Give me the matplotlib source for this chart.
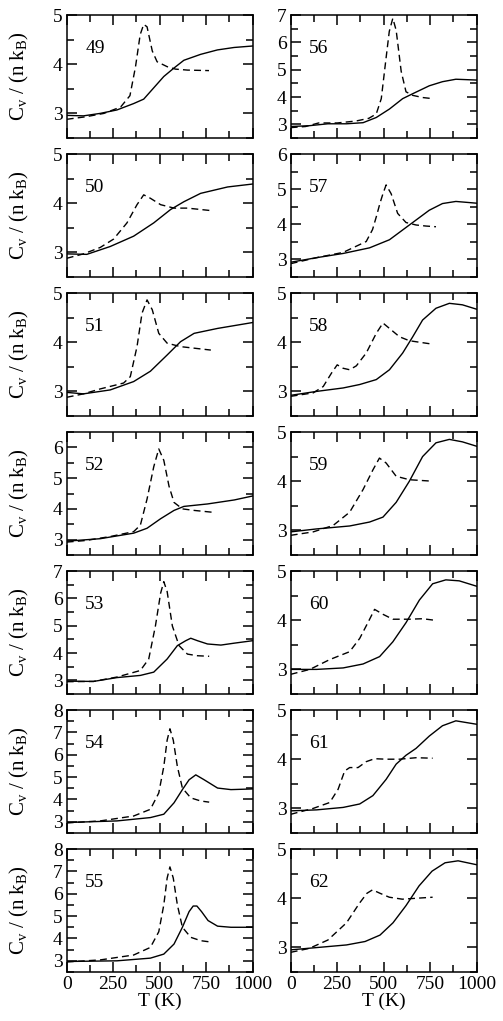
import matplotlib
matplotlib.use("Agg")
import matplotlib.pyplot as plt
from matplotlib.ticker import MultipleLocator

plt.rcParams["font.family"] = ["Liberation Serif", "DejaVu Serif"]
plt.rcParams["mathtext.fontset"] = "custom"
plt.rcParams["mathtext.rm"] = "Liberation Serif"

# panel numbers, left column then right column
left_ids = [49, 50, 51, 52, 53, 54, 55]
right_ids = [56, 57, 58, 59, 60, 61, 62]
ytop = {49: 5, 50: 5, 51: 5, 52: 6.5, 53: 7, 54: 8, 55: 8,
        56: 7, 57: 6, 58: 5, 59: 5, 60: 5, 61: 5, 62: 5}

# dashed (d) and solid (s) curves, T in K and Cv/(n kB)
T_49_d = [0, 100, 200, 290, 340, 370, 395, 414, 432, 460, 486, 540, 585, 650, 765]
C_49_d = [2.88, 2.93, 3.0, 3.13, 3.36, 3.95, 4.6, 4.81, 4.76, 4.27, 4.05, 3.95, 3.9, 3.88, 3.87]
T_49_s = [0, 90, 180, 270, 360, 414, 468, 522, 576, 630, 720, 810, 900, 1000]
C_49_s = [2.96, 2.95, 3.0, 3.07, 3.2, 3.29, 3.52, 3.75, 3.92, 4.08, 4.2, 4.29, 4.34, 4.37]

T_50_d = [0, 90, 180, 252, 324, 378, 414, 450, 505, 577, 649, 775]
C_50_d = [2.88, 2.97, 3.1, 3.27, 3.6, 3.97, 4.17, 4.1, 3.97, 3.9, 3.9, 3.85]
T_50_s = [0, 108, 234, 360, 468, 558, 630, 720, 865, 1000]
C_50_s = [2.97, 2.96, 3.12, 3.33, 3.6, 3.87, 4.03, 4.2, 4.33, 4.39]

T_51_d = [0, 90, 180, 306, 342, 378, 405, 432, 460, 495, 540, 612, 775]
C_51_d = [2.88, 2.95, 3.05, 3.17, 3.3, 3.91, 4.59, 4.86, 4.66, 4.18, 3.98, 3.91, 3.84]
T_51_s = [0, 90, 234, 360, 450, 540, 612, 685, 811, 1000]
C_51_s = [2.98, 2.95, 3.03, 3.2, 3.41, 3.74, 4.01, 4.18, 4.28, 4.4]

T_52_d = [0, 100, 234, 360, 396, 432, 468, 495, 522, 550, 577, 622, 685, 784]
C_52_d = [2.92, 2.97, 3.1, 3.26, 3.47, 4.32, 5.37, 5.95, 5.58, 4.74, 4.21, 4.0, 3.95, 3.89]
T_52_s = [0, 180, 360, 432, 505, 577, 630, 757, 901, 1000]
C_52_s = [2.95, 3.03, 3.21, 3.37, 3.68, 3.95, 4.08, 4.16, 4.29, 4.42]

T_53_d = [0, 144, 270, 396, 441, 477, 505, 522, 540, 568, 604, 649, 703, 766]
C_53_d = [2.95, 2.96, 3.12, 3.36, 3.78, 4.99, 6.19, 6.61, 6.25, 4.99, 4.27, 3.96, 3.9, 3.88]
T_53_s = [0, 144, 270, 396, 468, 540, 595, 640, 667, 703, 757, 829, 901, 1000]
C_53_s = [2.97, 2.96, 3.1, 3.18, 3.3, 3.78, 4.27, 4.45, 4.54, 4.45, 4.33, 4.29, 4.36, 4.45]

T_54_d = [0, 180, 360, 450, 495, 522, 540, 555, 573, 595, 622, 667, 721, 766]
C_54_d = [2.95, 3.04, 3.26, 3.56, 4.29, 5.47, 6.65, 7.16, 6.65, 5.47, 4.51, 4.07, 3.93, 3.88]
T_54_s = [0, 270, 450, 522, 577, 622, 658, 694, 739, 811, 883, 1000]
C_54_s = [2.97, 3.04, 3.19, 3.34, 3.85, 4.44, 4.88, 5.1, 4.88, 4.51, 4.44, 4.47]

T_55_d = [0, 180, 360, 450, 495, 522, 540, 555, 573, 595, 622, 667, 721, 766]
C_55_d = [2.95, 3.04, 3.26, 3.6, 4.3, 5.5, 6.7, 7.2, 6.7, 5.5, 4.5, 4.05, 3.9, 3.85]
T_55_s = [0, 270, 450, 522, 577, 622, 658, 680, 700, 725, 760, 811, 883, 1000]
C_55_s = [2.97, 3.0, 3.12, 3.3, 3.75, 4.5, 5.2, 5.45, 5.45, 5.2, 4.8, 4.55, 4.5, 4.5]

T_56_d = [0, 80, 150, 250, 350, 420, 460, 487, 513, 530, 549, 567, 594, 620, 656, 710, 763]
C_56_d = [2.88, 2.92, 3.05, 3.05, 3.12, 3.22, 3.38, 3.94, 5.44, 6.4, 6.88, 6.44, 4.94, 4.19, 4.06, 3.98, 3.94]
T_56_s = [0, 100, 200, 300, 389, 460, 531, 602, 656, 745, 816, 888, 1000]
C_56_s = [2.92, 2.95, 3.02, 3.02, 3.06, 3.25, 3.56, 3.94, 4.12, 4.41, 4.56, 4.65, 4.62]

T_57_d = [0, 139, 282, 406, 440, 460, 480, 496, 513, 540, 575, 620, 674, 727, 781]
C_57_d = [2.88, 3.05, 3.2, 3.51, 3.85, 4.21, 4.6, 4.87, 5.12, 4.87, 4.31, 4.05, 3.98, 3.95, 3.93]
T_57_s = [0, 139, 282, 424, 531, 638, 745, 816, 888, 1000]
C_57_s = [2.92, 3.05, 3.17, 3.33, 3.56, 3.98, 4.4, 4.59, 4.65, 4.6]

T_58_d = [0, 121, 175, 219, 250, 282, 317, 353, 406, 460, 496, 531, 585, 638, 709, 763]
C_58_d = [2.9, 2.97, 3.1, 3.37, 3.54, 3.47, 3.44, 3.52, 3.78, 4.18, 4.39, 4.28, 4.11, 4.03, 3.99, 3.96]
T_58_s = [0, 139, 282, 371, 460, 531, 602, 656, 709, 781, 853, 923, 1000]
C_58_s = [2.92, 3.0, 3.07, 3.14, 3.24, 3.44, 3.78, 4.11, 4.45, 4.69, 4.79, 4.76, 4.67]

T_59_d = [0, 121, 228, 317, 389, 442, 477, 513, 567, 638, 763]
C_59_d = [2.9, 2.97, 3.1, 3.37, 3.83, 4.23, 4.47, 4.37, 4.1, 4.03, 4.0]
T_59_s = [0, 139, 317, 424, 496, 567, 638, 709, 781, 853, 923, 1000]
C_59_s = [2.97, 3.03, 3.09, 3.17, 3.27, 3.57, 4.0, 4.5, 4.78, 4.85, 4.8, 4.71]

T_60_d = [0, 103, 210, 317, 371, 415, 451, 496, 549, 638, 709, 772]
C_60_d = [2.9, 3.0, 3.2, 3.36, 3.63, 3.95, 4.22, 4.12, 4.02, 4.02, 4.03, 4.0]
T_60_s = [0, 139, 282, 389, 478, 549, 620, 692, 763, 834, 906, 1000]
C_60_s = [3.0, 3.0, 3.03, 3.11, 3.26, 3.56, 3.95, 4.41, 4.74, 4.82, 4.8, 4.69]

T_61_d = [0, 121, 210, 255, 290, 317, 362, 406, 451, 513, 585, 674, 763]
C_61_d = [2.88, 3.0, 3.12, 3.39, 3.76, 3.83, 3.83, 3.95, 4.01, 4.0, 4.0, 4.03, 4.02]
T_61_s = [0, 139, 282, 371, 442, 513, 567, 620, 674, 745, 816, 888, 1000]
C_61_s = [2.95, 2.97, 3.02, 3.09, 3.26, 3.59, 3.9, 4.08, 4.22, 4.47, 4.68, 4.78, 4.71]

T_62_d = [0, 100, 200, 300, 370, 410, 440, 480, 530, 600, 680, 763]
C_62_d = [2.9, 2.98, 3.15, 3.5, 3.9, 4.1, 4.17, 4.1, 4.02, 3.98, 4.0, 4.02]
T_62_s = [0, 150, 300, 400, 480, 550, 620, 690, 760, 830, 900, 1000]
C_62_s = [2.95, 3.0, 3.05, 3.12, 3.25, 3.5, 3.85, 4.25, 4.55, 4.72, 4.76, 4.68]

curves = {
    49: (T_49_d, C_49_d, T_49_s, C_49_s), 50: (T_50_d, C_50_d, T_50_s, C_50_s),
    51: (T_51_d, C_51_d, T_51_s, C_51_s), 52: (T_52_d, C_52_d, T_52_s, C_52_s),
    53: (T_53_d, C_53_d, T_53_s, C_53_s), 54: (T_54_d, C_54_d, T_54_s, C_54_s),
    55: (T_55_d, C_55_d, T_55_s, C_55_s), 56: (T_56_d, C_56_d, T_56_s, C_56_s),
    57: (T_57_d, C_57_d, T_57_s, C_57_s), 58: (T_58_d, C_58_d, T_58_s, C_58_s),
    59: (T_59_d, C_59_d, T_59_s, C_59_s), 60: (T_60_d, C_60_d, T_60_s, C_60_s),
    61: (T_61_d, C_61_d, T_61_s, C_61_s), 62: (T_62_d, C_62_d, T_62_s, C_62_s),
}

fig = plt.figure(figsize=(5.03, 10.21), dpi=100)

W, H = 503.0, 1021.0
col_left = [66.7, 290.7]
ax_w = 186.0
ax_h = 123.0
row_top0 = 15.0
row_step = 139.0

for col, ids in enumerate([left_ids, right_ids]):
    for row, pid in enumerate(ids):
        top = row_top0 + row * row_step
        ax = fig.add_axes([col_left[col] / W, 1 - (top + ax_h) / H, ax_w / W, ax_h / H])
        td, cd, ts, cs = curves[pid]
        ax.plot(ts, cs, color="black", lw=1.0)
        ax.plot(td, cd, color="black", lw=1.0, ls=(0, (5, 3)))
        ax.set_xlim(0, 1000)
        ax.set_ylim(2.5, ytop[pid])
        ax.xaxis.set_major_locator(MultipleLocator(250))
        ax.xaxis.set_minor_locator(MultipleLocator(125))
        ax.yaxis.set_major_locator(MultipleLocator(1))
        ax.yaxis.set_minor_locator(MultipleLocator(0.5))
        ax.tick_params(which="both", direction="in", top=True, right=True,
                       labelsize=14, width=1.1)
        ax.tick_params(which="major", length=7, pad=3)
        ax.tick_params(which="minor", length=5)
        for sp in ax.spines.values():
            sp.set_linewidth(1.1)
        ax.text(0.10, 0.73, str(pid), transform=ax.transAxes, ha="left",
                va="center", fontsize=14)
        if row < len(ids) - 1:
            ax.tick_params(labelbottom=False)
        else:
            ax.set_xlabel("T (K)", fontsize=14, labelpad=0)
        if col == 0:
            ax.set_ylabel(r"C$_\mathregular{v}$ / (n k$_\mathregular{B}$)", fontsize=15)
            ax.yaxis.set_label_coords(-0.19, 0.5)

fig.savefig("out.png", dpi=100)
